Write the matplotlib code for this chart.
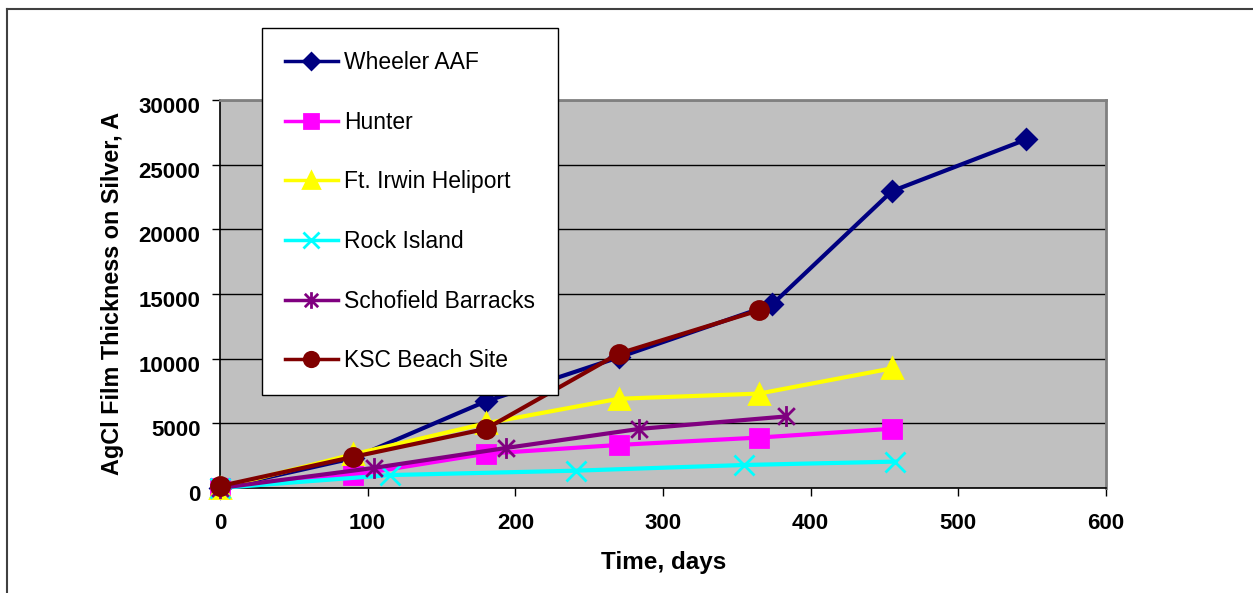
#!/usr/bin/env python3
"""AgCl film thickness on silver vs exposure time for six test sites."""

import matplotlib

matplotlib.use("Agg")
import matplotlib.pyplot as plt
import matplotlib.transforms as mtransforms
from matplotlib.lines import Line2D
from matplotlib.path import Path

plt.rcParams["font.family"] = ["Liberation Sans", "DejaVu Sans"]

# ─── Data ───────────────────────────────────────────────────────────────────

wheeler_days = [0, 90, 180, 270, 374, 455, 546]
wheeler_thk = [0, 2300, 6700, 10100, 14200, 22950, 26950]

hunter_days = [0, 90, 180, 270, 365, 455]
hunter_thk = [0, 1000, 2650, 3330, 3900, 4580]

irwin_days = [0, 90, 180, 270, 365, 455]
irwin_thk = [0, 2600, 5000, 6900, 7300, 9250]

rock_days = [0, 115, 241, 355, 457]
rock_thk = [0, 1000, 1340, 1780, 2040]

schofield_days = [0, 104, 194, 284, 383]
schofield_thk = [0, 1550, 3100, 4570, 5530]

ksc_days = [0, 90, 180, 270, 365]
ksc_thk = [150, 2400, 4570, 10390, 13740]

X_TICKS = [0, 100, 200, 300, 400, 500, 600]
Y_TICKS = [0, 5000, 10000, 15000, 20000, 25000, 30000]

# asterisk: vertical bar plus an X
STAR = Path(
    [(0, -1), (0, 1), (-0.8, -0.8), (0.8, 0.8), (-0.8, 0.8), (0.8, -0.8)],
    [Path.MOVETO, Path.LINETO, Path.MOVETO, Path.LINETO, Path.MOVETO, Path.LINETO],
)

SERIES = [
    ("Wheeler AAF", wheeler_days, wheeler_thk, "#000080", "D", 10),
    ("Hunter", hunter_days, hunter_thk, "#FF00FF", "s", 12.5),
    ("Ft. Irwin Heliport", irwin_days, irwin_thk, "#FFFF00", "^", 14),
    ("Rock Island", rock_days, rock_thk, "#00FFFF", "x", 14),
    ("Schofield Barracks", schofield_days, schofield_thk, "#800080", STAR, 15),
    ("KSC Beach Site", ksc_days, ksc_thk, "#800000", "o", 13),
]

W, H = 1253, 593
fig = plt.figure(figsize=(W / 100, H / 100), dpi=100, facecolor="white")
ax = fig.add_axes([220 / W, 1 - 488 / H, (1106 - 220) / W, (488 - 100) / H])
ax.set_facecolor("#C0C0C0")

for name, xs, ys, color, marker, ms in SERIES:
    ax.plot(
        xs, ys,
        color=color, lw=3, marker=marker, markersize=ms,
        markerfacecolor=color, markeredgecolor=color, markeredgewidth=2,
        label=name, clip_on=False, zorder=3,
    )

ax.set_xlim(0, 600)
ax.set_ylim(0, 30000)
ax.set_xticks(X_TICKS)
ax.set_yticks(Y_TICKS)
ax.yaxis.grid(True, color="black", lw=1)
ax.set_axisbelow(True)

for side in ("left", "bottom"):
    ax.spines[side].set_color("black")
    ax.spines[side].set_linewidth(1.2)
for side in ("top", "right"):
    ax.spines[side].set_color("#808080")
    ax.spines[side].set_linewidth(2)

ax.tick_params(axis="x", direction="out", length=6, width=1, pad=12, labelsize=16)
ax.tick_params(axis="y", direction="out", length=6, width=1, pad=8, labelsize=16)
for lbl in ax.get_xticklabels() + ax.get_yticklabels():
    lbl.set_fontweight("bold")

# value labels sit a little below their gridline in the reference
shift = mtransforms.ScaledTranslation(0, -5 / 100, fig.dpi_scale_trans)
for lbl in ax.get_yticklabels():
    lbl.set_transform(lbl.get_transform() + shift)

fig.text(664 / W, 1 - 562 / H, "Time, days", ha="center", va="center",
         fontsize=17.5, fontweight="bold")
fig.text(113 / W, 1 - 293.5 / H, "AgCl Film Thickness on Silver, A", ha="center",
         va="center", rotation=90, fontsize=16.8, fontweight="bold")

leg = ax.legend(
    loc="upper left",
    bbox_to_anchor=(262 / W, 1 - 28 / H),
    bbox_transform=fig.transFigure,
    borderaxespad=0,
    fontsize=16.5,
    labelspacing=1.6,
    handlelength=2.3,
    handletextpad=0.3,
    borderpad=1.0,
    markerscale=0.8,
    fancybox=False,
    framealpha=1,
    edgecolor="black",
)
leg.get_frame().set_linewidth(1)
for h in leg.legend_handles:
    h.set_linewidth(2.5)

# outer chart border (clipped at right/bottom in the reference)
fig.add_artist(Line2D([7 / W, 1], [1 - 9 / H, 1 - 9 / H], color="#404040", lw=1.5))
fig.add_artist(Line2D([7 / W, 7 / W], [1 - 9 / H, 0], color="#404040", lw=1.5))

fig.savefig("out.png", dpi=100, facecolor="white")
